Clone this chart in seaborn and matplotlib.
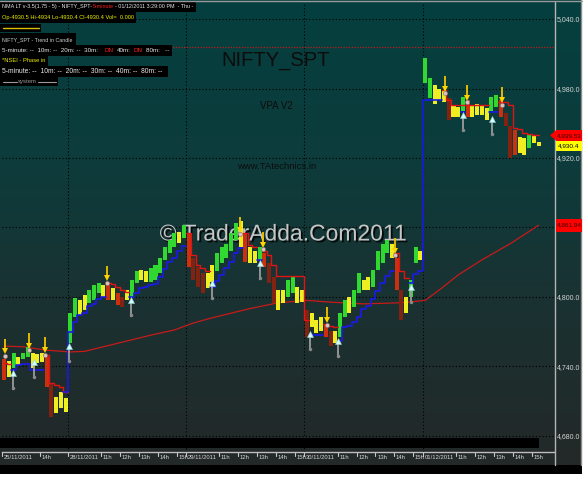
import numpy as np
import pandas as pd
import matplotlib
matplotlib.use("Agg")
import matplotlib.pyplot as plt
import matplotlib.transforms as mtransforms
import matplotlib.patheffects as pe
from matplotlib.patches import Rectangle, Polygon
from matplotlib.lines import Line2D
from matplotlib.colors import LinearSegmentedColormap
import seaborn as sns

nan = np.nan

# 15-minute bars: 25/11 from 12:00, then four full sessions
hi_25 = [4746, 4745, 4752, 4748, 4752, 4757, 4752, 4751, 4752, 4748, 4726, 4714, 4718, 4713]
lo_25 = [4728, 4731, 4739, 4741, 4746, 4748, 4739, 4743, 4744, 4722, 4696, 4700, 4704, 4701]
hi_28 = [4786, 4799, 4797, 4802, 4806, 4810, 4812, 4810, 4810, 4808, 4803, 4800, 4806,
         4815, 4822, 4823, 4822, 4825, 4828, 4834, 4843, 4849, 4855, 4856, 4862]
lo_28 = [4760, 4783, 4784, 4789, 4795, 4797, 4803, 4800, 4797, 4797, 4793, 4791, 4797,
         4800, 4812, 4815, 4813, 4813, 4815, 4821, 4832, 4838, 4843, 4847, 4851]
hi_29 = [4855, 4834, 4826, 4821, 4821, 4828, 4838, 4843, 4846, 4855, 4864, 4866, 4855,
         4843, 4840, 4843, 4838, 4829, 4817, 4806, 4806, 4815, 4817, 4809, 4806]
lo_29 = [4826, 4815, 4809, 4803, 4808, 4813, 4822, 4829, 4834, 4840, 4849, 4843, 4830,
         4829, 4829, 4832, 4826, 4812, 4795, 4789, 4795, 4800, 4803, 4795, 4796]
hi_30 = [4789, 4786, 4780, 4783, 4777, 4771, 4771, 4786, 4797, 4800, 4806, 4821, 4815,
         4817, 4823, 4840, 4846, 4849, 4846, 4834, 4806, 4800, 4815, 4843, 4840]
lo_30 = [4765, 4774, 4769, 4771, 4765, 4758, 4760, 4765, 4783, 4786, 4791, 4803, 4806,
         4806, 4809, 4823, 4829, 4838, 4834, 4806, 4780, 4786, 4800, 4829, 4832]
hi_01 = [5006, 4989, 4983, 4980, 4979, 4972, 4966, 4964, 4973, 4970, 4966, 4967, 4965,
         4963, 4973, 4974, 4970, 4959, 4948, 4944, 4938, 4937, 4941, 4940, 4934]
lo_01 = [4985, 4972, 4967, 4970, 4968, 4953, 4955, 4955, 4961, 4955, 4955, 4957, 4957,
         4953, 4961, 4964, 4955, 4948, 4920, 4923, 4924, 4923, 4929, 4933, 4930.4]
# candle colour: g=up trend, y=neutral, r=weak, d=down
col_25 = "rygyggyyyrdyyy"
col_28 = "ggyygggyryrdyggyyggggggyg"
col_29 = "rdddyygggggyryygrddyyggyy"
col_30 = "dyyyrdyggyggyyggggyrdyggy"
col_01 = "ggyyydyygryyyyggrddryygyy"

# trailing stops (nan = not drawn)
red_25 = [4743, 4742, nan, nan, nan, nan, nan, nan, nan, 4750, 4726, 4724, 4722, 4718]
blue_25 = [nan, nan, 4737, 4741, 4742, 4742, 4737, 4737, 4737, nan, nan, nan, nan, 4718]
red_28 = [nan] * 8 + [4812, 4811, 4809, 4806, 4804] + [nan] * 12
blue_28 = [4770, 4778, 4784, 4786, 4792, 4794, 4798, 4800] + [nan] * 5 + \
          [4800, 4803, 4808, 4809, 4810, 4811, 4817, 4824, 4830, 4834, 4840, 4844]
red_29 = [4855, 4836, 4828, 4825, 4822] + [nan] * 7 + [4855, 4845, 4843, nan] + \
         [4840, 4836, 4828, 4818, 4818, 4818, 4818, 4818, 4818]
blue_29 = [nan] * 5 + [4809, 4814, 4819, 4825, 4830, 4838, 4842] + [nan] * 3 + [4832] + [nan] * 9
red_30 = [4780, nan, nan, nan, 4777, 4775, 4774] + [nan] * 12 + [4838, 4822, 4816, nan, nan, nan]
blue_30 = [nan, 4767, 4767, 4767, nan, nan, nan, 4762, 4774, 4775, 4778, 4783, 4790, 4792,
           4798, 4805, 4812, 4818, 4822, nan, nan, nan, 4812, 4820, 4822]
red_01 = [nan] * 4 + [4979, 4970] + [4966] * 8 + [nan, nan] + \
         [4968, 4968, 4966, 4946, 4945, 4942, 4941, 4940, 4939.53]
blue_01 = [4970] * 4 + [nan] * 4 + [4960] + [nan] * 5 + [4960, 4960] + [nan] * 9

# long moving average, vertices read at bar positions
ma_k = [0, 4, 9, 14, 17, 21, 27, 31, 36, 40, 44, 52, 58, 64, 69, 76, 84, 89, 92, 96, 101, 107, 113]
ma_v = [4757.5, 4757, 4754, 4752.5, 4753, 4757, 4763, 4767, 4771.5, 4777.5, 4782, 4790,
        4795, 4797, 4795.5, 4794, 4795, 4797, 4806, 4819, 4832, 4846, 4861.94]

# signal arrows: bar position and price of the arrow tip
up_k = [1.9, 6.3, 13.7, 26.8, 43.9, 54.1, 64.7, 70.6, 86.0, 97.0, 103.1]
up_tip = [4737, 4747, 4761, 4800, 4815, 4832, 4771, 4765, 4812, 4960, 4957]
dn_k = [0.2, 5.25, 8.6, 21.7, 49.9, 54.7, 68.3, 82.7, 93.2, 97.9, 105.3]
dn_tip = [4747, 4752, 4748, 4810, 4852, 4839, 4774, 4834, 4974, 4966, 4964]

period_high = 5016
price_ticks = [4680, 4740, 4800, 4860, 4920, 4980, 5040]
day_names = ["28/11/2011", "29/11/2011", "30/11/2011", "01/12/2011"]
day_start = [13.5, 38.5, 63.5, 88.5]
hour_names = ["11h", "12h", "13h", "14h", "15h"]
hour_offset = [7, 11, 15, 19, 23]
flag_text = ["4,939.53", "4,930.4", "4,861.94"]

bar_hi = hi_25 + hi_28 + hi_29 + hi_30 + hi_01
bar_lo = lo_25 + lo_28 + lo_29 + lo_30 + lo_01
bar_col = list(col_25 + col_28 + col_29 + col_30 + col_01)
red_trail = red_25 + red_28 + red_29 + red_30 + red_01
blue_trail = blue_25 + blue_28 + blue_29 + blue_30 + blue_01

df = pd.DataFrame({"k": np.arange(len(bar_hi)), "hi": bar_hi, "lo": bar_lo, "col": bar_col})
palette = {"g": "#30d830", "y": "#eeee22", "r": "#cc300e", "d": "#822210"}

sns.set_theme(style="dark")
plt.rcParams["font.family"] = ["Liberation Sans Narrow", "Liberation Sans", "DejaVu Sans"]

W, H = 585, 478
fig = plt.figure(figsize=(W / 100, H / 100), dpi=100, facecolor="white")
renderer = fig.canvas.get_renderer()


def fx(x):
    return x / W


def fy(y):
    return 1 - y / H


def px_rect(x, y, w, h, color, z=1):
    fig.add_artist(Rectangle((fx(x), fy(y + h)), w / W, h / H, transform=fig.transFigure,
                             facecolor=color, edgecolor="none", zorder=z))


def label_line(x0, x1, y, pieces, gap=1.5, size=5.0):
    # lay the pieces of one legend line left to right and shrink them to fit x0..x1
    texts = [fig.text(0, 0, s, color=c, fontsize=size, ha="left", va="center", zorder=3)
             for s, c in pieces]
    widths = [t.get_window_extent(renderer=renderer).width for t in texts]
    scale = min(1.15, (x1 - x0 - gap * (len(texts) - 1)) / sum(widths))
    x = x0
    for t, w in zip(texts, widths):
        t.set_fontsize(size * scale)
        t.set_position((fx(x), fy(y)))
        x += w * scale + gap


# dark teal gradient behind the whole chart window
bg = fig.add_axes([0, fy(465), fx(582), 465 / H], zorder=-5)
cmap = LinearSegmentedColormap.from_list("bg", ["#053f3f", "#0d3c3c", "#1b3131", "#242828"])
bg.imshow(np.linspace(0, 1, 256).reshape(-1, 1), aspect="auto", cmap=cmap, extent=[0, 1, 0, 1])
bg.set_axis_off()

ax = fig.add_axes([fx(2), fy(452), (554 - 2) / W, (452 - 2) / H], zorder=0)
ax.set_facecolor("none")
ax.grid(False)

# grid
for v in price_ticks:
    ax.axhline(v, color="black", lw=0.8, ls=(0, (1, 2)), zorder=1)
for d in day_start:
    ax.axvline(d, color="black", lw=0.8, ls=(0, (1, 2)), zorder=1)
ax.axhline(period_high, color="#b81c1c", lw=0.9, ls=(0, (1, 1.2)), zorder=1)

# overlay captions
ax.text(fx(276), fy(61), "NIFTY_SPT", transform=fig.transFigure, fontsize=14.5, color="#0c0c0c",
        ha="center", va="center", zorder=1.5)
ax.text(fx(276), fy(106), "VPA V2", transform=fig.transFigure, fontsize=7, color="#0c0c0c",
        ha="center", va="center", zorder=1.5)
ax.text(fx(277), fy(166), "www.TAtechnics.in", transform=fig.transFigure, fontsize=6.8,
        color="#0c0c0c", ha="center", va="center", zorder=1.5)
ax.text(fx(283), fy(234), "\u00a9 TraderAdda.Com2011", transform=fig.transFigure, fontsize=16.5,
        color="#c6c6c6", ha="center", va="center", zorder=2.5,
        family=["Liberation Sans", "DejaVu Sans"],
        path_effects=[pe.withSimplePatchShadow(offset=(1.3, -1.3), shadow_rgbFace="black", alpha=0.8)])

sns.lineplot(x=ma_k, y=ma_v, ax=ax, color="#c81a1a", lw=0.9, zorder=2)

ax.bar(df["k"], df["hi"] - df["lo"], bottom=df["lo"], width=0.85,
       color=df["col"].map(palette), linewidth=0, zorder=3)

ax.plot(df["k"], red_trail, drawstyle="steps-mid", color="#e01414", lw=1.0, zorder=4)
ax.plot(df["k"], blue_trail, drawstyle="steps-mid", color="#1a1ae8", lw=1.2, zorder=4)

# buy / sell arrows
for k, t in zip(up_k, up_tip):
    ax.plot([k, k], [t - 17, t - 5], color="#9c9c9c", lw=1.3, zorder=5, solid_capstyle="butt")
    ax.plot([k], [t - 3], marker="^", ms=5, color="#cfffff", mec="#9ad0d0", mew=0.4, zorder=6)
    ax.plot([k], [t - 16], marker="o", ms=2.5, color="#8a8a8a", mew=0, zorder=6)
for k, t in zip(dn_k, dn_tip):
    ax.plot([k, k], [t + 17, t + 8], color="#f5c400", lw=1.3, zorder=5, solid_capstyle="butt")
    ax.plot([k], [t + 6], marker="v", ms=5, color="#ffd400", mew=0, zorder=6)
    ax.plot([k], [t + 2], marker="o", ms=3, color="#d8c4c4", mec="#8a6a6a", mew=0.4, zorder=6)

ax.set_xlim(-0.455, 116.25)
ax.set_ylim(4666.1, 5054.7)
ax.set_xlabel("")
ax.set_ylabel("")
for side in ["top", "left", "right"]:
    ax.spines[side].set_visible(False)
ax.spines["bottom"].set_color("#bdbdbd")
ax.spines["bottom"].set_linewidth(1.0)

# price scale; the 4,860 label sits under the moving-average flag
ax.yaxis.tick_right()
ax.set_yticks(price_ticks)
ax.set_yticklabels(["" if v == 4860 else f"{v:,.1f}" for v in price_ticks])
ax.tick_params(axis="y", length=0, pad=2.0, labelsize=5, labelcolor="#d4d4d4")
ax.set_xticks([])

# time axis labels
blend = mtransforms.blended_transform_factory(ax.transData, fig.transFigure)
tick_pos = [-0.455, day_start[0] - 25 + 19]
tick_lab = ["25/11/2011", "14h"]
for d, name in zip(day_start, day_names):
    tick_pos.append(d)
    tick_lab.append(name)
    for off, hn in zip(hour_offset, hour_names):
        tick_pos.append(d + off)
        tick_lab.append(hn)
for p, lab in zip(tick_pos, tick_lab):
    ax.plot([p, p], [fy(452), fy(456)], transform=blend, clip_on=False, color="#c8c8c8", lw=0.8)
    ax.text(p + 0.35, fy(457.5), lab, transform=blend, fontsize=4.2, color="#d8d8d8",
            ha="left", va="center", clip_on=False)

# window furniture
px_rect(0, 438, 539, 10, "black")
px_rect(0, 465, 582, 9, "black")
fig.add_artist(Line2D([fx(554.5)] * 2, [fy(2), fy(465)], color="#b4b4b4", lw=1.0))
fig.add_artist(Line2D([fx(581)] * 2, [fy(0), fy(465)], color="#8c8c8c", lw=1.0))
fig.add_artist(Line2D([0, fx(582)], [fy(1), fy(1)], color="#9a9a9a", lw=1.0))

# last-value flags on the price scale
yblend = mtransforms.blended_transform_factory(fig.transFigure, ax.transData)
flags = [(red_trail[-1], "#ff0000", "#3a0000", 9.5), (bar_lo[-1], "#ffff00", "black", 8.6),
         (ma_v[-1], "#ff0000", "#3a0000", 11.0)]
for (v, fc, tc, hgt), txt in zip(flags, flag_text):
    fig.add_artist(Rectangle((fx(556), v - hgt / 2), 26 / W, hgt, transform=yblend,
                             facecolor=fc, edgecolor="none", zorder=2))
    fig.text(fx(569), v, txt, transform=yblend, fontsize=4.6, color=tc,
             ha="center", va="center", zorder=3)
fig.add_artist(Polygon([(fx(550), red_trail[-1]), (fx(556.5), red_trail[-1] + 4.75),
                        (fx(556.5), red_trail[-1] - 4.75)], closed=True, transform=yblend,
                       facecolor="#ff0000", edgecolor="none", zorder=2))

# indicator legend boxes, top left
white, yellow, red = "#e6e6e6", "#f0f000", "#ff2020"
px_rect(0, 1, 196, 11, "black")
label_line(2, 194, 6.5, [("NMA LT v-3.5(1.75 - 5) - NIFTY_SPT-", white), ("5-minute", red),
                         ("- 01/12/2011 3:29:00 PM  - Thu -", white)], gap=0.5)
px_rect(0, 12, 136, 11, "black")
label_line(2, 134, 17, [("Op-4930.5 Hi-4934 Lo-4930.4 Cl-4930.4 Vol=  0.000", yellow)])
px_rect(0, 24, 41, 8, "black")
fig.add_artist(Line2D([fx(3), fx(39)], [fy(28), fy(28)], color="#d8c000", lw=1.0, zorder=3))
px_rect(0, 33, 76, 12, "black")
label_line(2, 74, 39.5, [("NIFTY_SPT - Trend in Candle", "#d0d0d0")])
px_rect(0, 45, 172, 11, "black")
label_line(2, 170, 50, [("5-minute: --  10m: --  20m: --  30m:", white), ("DN", red),
                        ("40m:", white), ("DN", red), ("80m:   --", white)], gap=3.0)
px_rect(0, 56, 48, 10, "black")
label_line(2, 46, 60.5, [("*NSEI - Phase in", yellow)])
px_rect(0, 66, 168, 11, "black")
label_line(2, 166, 71.5, [("5-minute: --  10m: --  20m: --  30m: --  40m: --  80m: --", white)])
px_rect(0, 77, 58, 9, "black")
fig.add_artist(Line2D([fx(3), fx(17)], [fy(81.5), fy(81.5)], color="#9a9a9a", lw=0.8, zorder=3))
fig.add_artist(Line2D([fx(38), fx(56)], [fy(81.5), fy(81.5)], color="#9a9a9a", lw=0.8, zorder=3))
label_line(18, 37, 82, [("system", "#9a9a9a")])

fig.savefig("out.png", dpi=100, facecolor=fig.get_facecolor())
